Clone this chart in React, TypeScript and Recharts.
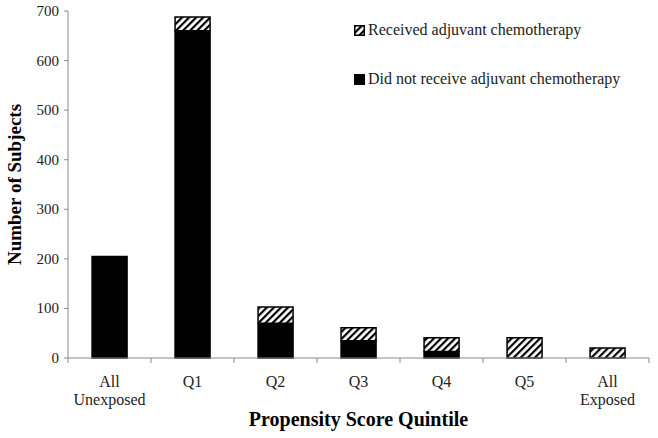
import React from 'react';
import { BarChart, Bar, XAxis, YAxis, Label } from 'recharts';

const categories = ['All Unexposed', 'Q1', 'Q2', 'Q3', 'Q4', 'Q5', 'All Exposed'];
const didNotReceive = [205, 660, 70, 35, 13, 0, 0];
const received = [0, 28, 33, 26, 28, 41, 20];
const yTicks = [0, 100, 200, 300, 400, 500, 600, 700];
const legendLabels = ['Received adjuvant chemotherapy', 'Did not receive adjuvant chemotherapy'];

const data = categories.map((c, i) => ({ name: c, notReceived: didNotReceive[i], received: received[i] }));

const FONT = '"Liberation Serif", "Times New Roman", serif';
const AXIS = '#8a8a8a';

const XTick = (props: any) => {
  const { x, y, payload, index, visibleTicksCount } = props;
  const off = payload && payload.offset ? payload.offset : 0;
  const lines = String(payload.value).split(' ');
  const ay = y - 8;
  return (
    <g>
      <line x1={x - off} x2={x - off} y1={ay} y2={ay + 5} stroke={AXIS} strokeWidth={1} />
      {index === visibleTicksCount - 1 && (
        <line x1={x + off} x2={x + off} y1={ay} y2={ay + 5} stroke={AXIS} strokeWidth={1} />
      )}
      <text x={x} y={ay + 29} textAnchor="middle" fontFamily={FONT} fontSize={16} fill="#222">
        {lines.map((l, i) => (
          <tspan key={i} x={x} dy={i === 0 ? 0 : 18}>{l}</tspan>
        ))}
      </text>
    </g>
  );
};

const YTick = (props: any) => {
  const { x, y, payload } = props;
  return (
    <text x={x} y={y + 5} textAnchor="end" fontFamily={FONT} fontSize={15} fill="#222">
      {payload.value}
    </text>
  );
};

export default function App() {
  return (
    <div style={{ position: 'absolute', left: 0, top: 0, width: 658, height: 438, background: '#fff' }}>
      <svg width={0} height={0} style={{ position: 'absolute' }}>
        <defs>
          <pattern id="hatch" patternUnits="userSpaceOnUse" width={5} height={5} patternTransform="rotate(45)">
            <rect x={0} y={0} width={5} height={5} fill="#fff" />
            <rect x={0} y={0} width={2.2} height={5} fill="#000" />
          </pattern>
        </defs>
      </svg>
      <BarChart
        width={658}
        height={438}
        data={data}
        margin={{ top: 11, right: 9, bottom: 0, left: 0 }}
        barCategoryGap="29%"
      >
        <XAxis
          dataKey="name"
          type="category"
          height={80}
          axisLine={{ stroke: AXIS }}
          tickLine={false}
          interval={0}
          tick={<XTick />}
        >
          <Label
            content={(p: any) => {
              const vb = p.viewBox;
              return (
                <text x={vb.x + vb.width / 2} y={vb.y + 68} textAnchor="middle" fontFamily={FONT} fontSize={20} fontWeight="bold" fill="#000">
                  Propensity Score Quintile
                </text>
              );
            }}
          />
        </XAxis>
        <YAxis
          width={68}
          domain={[0, 700]}
          ticks={yTicks}
          interval={0}
          axisLine={{ stroke: AXIS }}
          tickLine={{ stroke: AXIS }}
          tickSize={4}
          tickMargin={5}
          tick={<YTick />}
        >
          <Label
            content={(p: any) => {
              const vb = p.viewBox;
              const cx = vb.x + 21;
              const cy = vb.y + vb.height / 2;
              return (
                <text x={cx} y={cy} transform={`rotate(-90 ${cx} ${cy})`} textAnchor="middle" fontFamily={FONT} fontSize={19} fontWeight="bold" fill="#000">
                  Number of Subjects
                </text>
              );
            }}
          />
        </YAxis>
        <Bar dataKey="notReceived" name={legendLabels[1]} stackId="a" fill="#000" stroke="#000" strokeWidth={1.5} isAnimationActive={false} />
        <Bar dataKey="received" name={legendLabels[0]} stackId="a" fill="url(#hatch)" stroke="#000" strokeWidth={1.5} isAnimationActive={false} />
      </BarChart>
      <div style={{ position: 'absolute', left: 354, top: 20, fontFamily: FONT, fontSize: 16, color: '#222', lineHeight: '20px', whiteSpace: 'nowrap' }}>
        <div style={{ display: 'flex', alignItems: 'center', height: 20 }}>
          <svg width={11} height={11} style={{ marginRight: 3 }}>
            <rect x={0.75} y={0.75} width={9.5} height={9.5} fill="url(#hatch)" stroke="#000" strokeWidth={1.5} />
          </svg>
          <span>{legendLabels[0]}</span>
        </div>
        <div style={{ display: 'flex', alignItems: 'center', height: 20, marginTop: 29 }}>
          <svg width={11} height={11} style={{ marginRight: 3 }}>
            <rect x={0.5} y={0.5} width={10} height={10} fill="#000" stroke="#000" />
          </svg>
          <span>{legendLabels[1]}</span>
        </div>
      </div>
    </div>
  );
}
